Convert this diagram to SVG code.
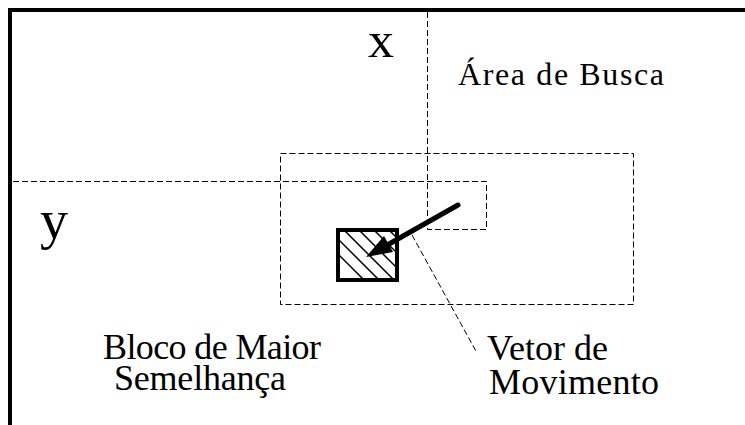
<svg xmlns="http://www.w3.org/2000/svg" width="745" height="425" viewBox="0 0 745 425">
<style>
.dash{fill:none;stroke:#000;stroke-width:1;stroke-dasharray:6 3}
.lbl{font-family:"Liberation Serif","Times New Roman",serif;fill:#000}
.hatch{stroke:#000;stroke-width:1.5}
</style>
<defs>
<clipPath id="blockClip"><rect x="340" y="232" width="55" height="46"/></clipPath>
</defs>
<rect width="745" height="425" fill="#fff"/>
<g id="frame">
<path d="M10,425 V10 H745" fill="none" stroke="#000" stroke-width="4"/>
</g>
<g id="axes">
<path class="dash" d="M427.5,12 V229.5 H486.5 V181.5 H12"/>
<text class="lbl" x="368" y="57" font-size="50" textLength="26" lengthAdjust="spacingAndGlyphs">x</text>
<text class="lbl" x="40" y="238" font-size="54" textLength="28" lengthAdjust="spacingAndGlyphs">y</text>
</g>
<g id="search-area">
<rect class="dash" x="280.5" y="153.5" width="353" height="151"/>
<text class="lbl" x="458" y="85" font-size="32" textLength="206" lengthAdjust="spacing">Área de Busca</text>
</g>
<g id="best-block">
<g clip-path="url(#blockClip)">
<line class="hatch" x1="284" y1="200" x2="434" y2="350"/>
<line class="hatch" x1="299" y1="200" x2="449" y2="350"/>
<line class="hatch" x1="314" y1="200" x2="464" y2="350"/>
<line class="hatch" x1="329" y1="200" x2="479" y2="350"/>
<line class="hatch" x1="344" y1="200" x2="494" y2="350"/>
<line class="hatch" x1="359" y1="200" x2="509" y2="350"/>
<line class="hatch" x1="374" y1="200" x2="524" y2="350"/>
</g>
<rect x="338" y="230" width="59" height="50" fill="none" stroke="#000" stroke-width="4"/>
<text class="lbl" x="103" y="359" font-size="36" textLength="218" lengthAdjust="spacing">Bloco de Maior</text>
<text class="lbl" x="114" y="390" font-size="36" textLength="172" lengthAdjust="spacing">Semelhança</text>
</g>
<g id="motion-vector-label">
<text class="lbl" x="487" y="360" font-size="36" textLength="121" lengthAdjust="spacing">Vetor de</text>
<text class="lbl" x="489" y="394" font-size="36" textLength="170" lengthAdjust="spacing">Movimento</text>
</g>
<g id="connectors">
<line x1="458" y1="205" x2="389" y2="244" stroke="#000" stroke-width="5" stroke-linecap="round"/>
<polygon points="366,257 393,252 384,236" fill="#000"/>
<line class="dash" x1="412" y1="235" x2="477" y2="353" stroke-dasharray="4 2"/>
</g>
</svg>
